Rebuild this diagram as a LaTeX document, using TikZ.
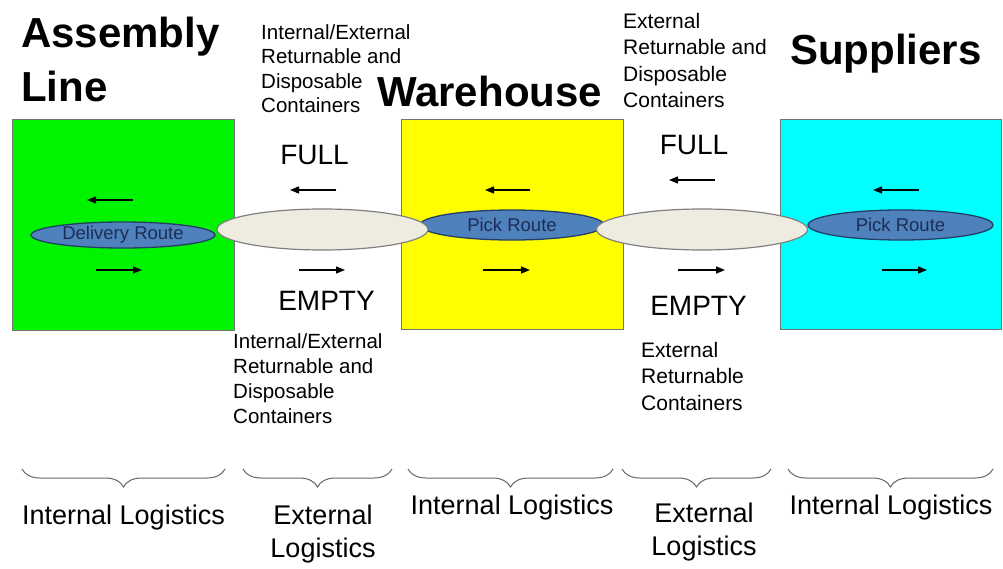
\documentclass[tikz,border=0pt]{standalone}
\usepackage{fontspec}
\setmainfont{Liberation Sans}
\usetikzlibrary{arrows.meta,shapes.geometric,decorations.pathreplacing}
\definecolor{assembly}{HTML}{00F400}
\definecolor{warehouse}{HTML}{FFFF00}
\definecolor{supplier}{HTML}{00FFFF}
\definecolor{route}{HTML}{4F81BD}
\definecolor{routeline}{HTML}{243F66}
\definecolor{routetext}{HTML}{1C2E55}
\definecolor{link}{HTML}{EEECE1}
\newcommand{\sz}[2]{\fontsize{#1}{#2}\selectfont}
\tikzset{
  >={Triangle[length=9pt,width=7pt]},
  every node/.style={text=black,inner sep=0pt},
  site/.style={draw=black!55,line width=1pt,minimum width=222pt,minimum height=210pt},
  routeoval/.style={ellipse,draw=routeline,line width=1.3pt,fill=route,minimum width=184pt,minimum height=30pt,font=\sz{18.5}{20},text=routetext},
  linkoval/.style={ellipse,draw=black!50,line width=1.2pt,fill=link,minimum width=211pt,minimum height=41pt},
  flow/.style={->,line width=1.4pt},
  heading/.style={font=\bfseries\sz{42}{54},align=left},
  note/.style={font=\sz{20.5}{24.5},align=left,anchor=north west},
  dirtag/.style={font=\sz{28}{30},anchor=base},
  caption/.style={font=\sz{27}{33},align=center,anchor=north},
  logbrace/.style={decorate,decoration={brace,mirror,amplitude=18pt},draw=black!60,line width=1pt},
}

\begin{document}
\begin{tikzpicture}[x=1pt,y=-1pt]
\useasboundingbox (0,0) rectangle (1003,569);

% the three sites
\node[site,fill=assembly] (asmbox) at (123,225) {};
\node[site,fill=warehouse,minimum height=209pt] (whbox) at (512,224.5) {};
\node[site,fill=supplier,minimum width=221pt,minimum height=209pt] (supbox) at (890.5,224.5) {};

% routes inside the sites, transport links between them
\node[routeoval,minimum height=26pt] (delivery) at (123,235) {Delivery Route};
\node[routeoval] (pickwh) at (512,225) {Pick Route};
\node[routeoval,minimum width=185pt] (picksup) at (900.5,225) {Pick Route};
\node[linkoval] (linkA) at (322.5,229.5) {};
\node[linkoval] (linkB) at (702,229.5) {};

% titles
\node[heading,anchor=north west] (asmtitle) at (21,17) {Assembly\\Line};
\node[heading,anchor=base west] (whtitle) at (377,107) {Warehouse};
\node[heading,anchor=base west] (suptitle) at (790,65) {Suppliers};

% container types per link
\node[note] (fullA) at (261,24) {Internal/External\\Returnable and\\Disposable\\Containers};
\node[note,font=\sz{21}{26.5}] (fullB) at (623,13) {External\\Returnable and\\Disposable\\Containers};
\node[note,font=\sz{20.5}{25}] (emptyA) at (233,333) {Internal/External\\Returnable and\\Disposable\\Containers};
\node[note,font=\sz{21}{26.5}] (emptyB) at (641,342) {External\\Returnable\\Containers};

\node[dirtag] (fullAtag) at (314.5,165) {FULL};
\node[dirtag] (emptyAtag) at (326.5,310) {EMPTY};
\node[dirtag] (fullBtag) at (694,155) {FULL};
\node[dirtag] (emptyBtag) at (698.5,315) {EMPTY};

% flow directions: full goes left, empty goes right
\foreach \xa/\xb/\y in {133/87/200,336/290/190,530/485/190,715/669/180,919/873/190,
                        96/142/270,299/345/270,483/530/270,678/725/270,882/927/270}
  \draw[flow] (\xa,\y) -- (\xb,\y);

% logistics spans
\foreach \xa/\xb in {22/225,243/392,408/613,622/771,788/993}
  \draw[logbrace] (\xa,469) -- (\xb,469);

\node[caption] (capA) at (123.5,505) {Internal Logistics};
\node[caption] (capB) at (323,505) {External\\Logistics};
\node[caption] (capC) at (512,495) {Internal Logistics};
\node[caption] (capD) at (704,503) {External\\Logistics};
\node[caption] (capE) at (891,495) {Internal Logistics};

\end{tikzpicture}
\end{document}
